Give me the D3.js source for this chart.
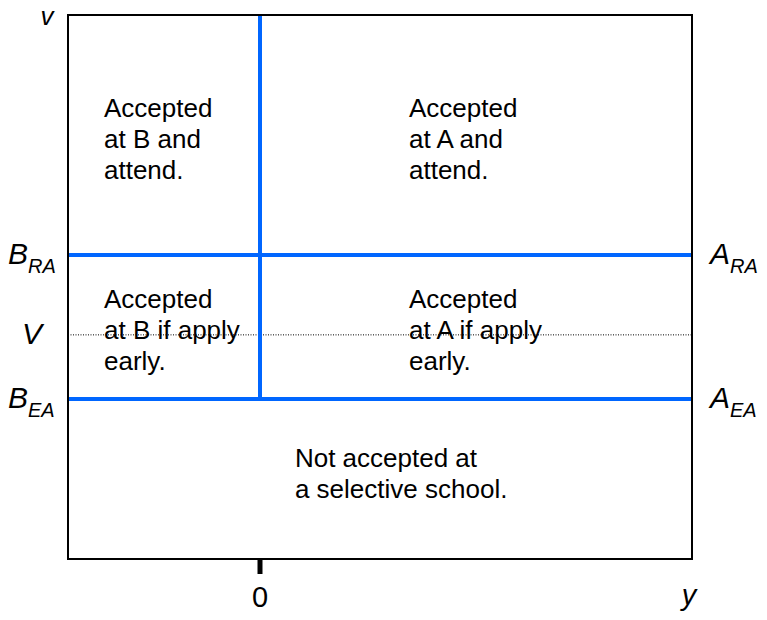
<!DOCTYPE html>
<html>
<head>
<meta charset="utf-8">
<script src="https://cdn.jsdelivr.net/npm/d3@7"></script>
<style>
  body { margin: 0; background: #fff; }
  text { font-family: "Liberation Sans", Arial, sans-serif; }
</style>
</head>
<body>
<div id="svg" style="width:767px;height:620px"></div>
<script>
// datos del grafico
const xDominio = [-1, 2.25];
const yDominio = [0, 1];
const corteX = [0];                 // linea vertical azul en y = 0
const cortesY = [0.294, 0.559];     // B_EA / A_EA y B_RA / A_RA
const nivelV = 0.412;               // linea punteada V
const etiquetasIzq = [
    {base: "B", sub: "RA", v: 0.559},
    {base: "V", sub: "", v: 0.412},
    {base: "B", sub: "EA", v: 0.294},
];
const etiquetasDer = [
    {base: "A", sub: "RA", v: 0.559},
    {base: "A", sub: "EA", v: 0.294},
];
const regiones = [
    {x: -0.8125, y: 0.8125, lineas: ["Accepted", "at B and", "attend."]},
    {x: 0.776, y: 0.8125, lineas: ["Accepted", "at A and", "attend."]},
    {x: -0.8125, y: 0.461, lineas: ["Accepted", "at B if apply", "early."]},
    {x: 0.776, y: 0.461, lineas: ["Accepted", "at A if apply", "early."]},
    {x: 0.182, y: 0.169, lineas: ["Not accepted at", "a selective school."]},
];

const width = 767, height = 620;
const margin = {top: 15, bottom: 61, left: 68, right: 75};

const svg = d3.select("#svg").append("svg")
    .attr("width", width)
    .attr("height", height);

const x = d3.scaleLinear().domain(xDominio).range([margin.left, width - margin.right]);
const y = d3.scaleLinear().domain(yDominio).range([height - margin.bottom, margin.top]);

// linea punteada V
svg.append("line")
    .attr("x1", x(xDominio[0])).attr("x2", x(xDominio[1]))
    .attr("y1", y(nivelV)).attr("y2", y(nivelV))
    .attr("stroke", "#000").attr("stroke-width", 1)
    .attr("stroke-dasharray", "1,1.5");

// lineas azules
svg.append("g").selectAll("line")
    .data(cortesY)
    .join("line")
    .attr("x1", x(xDominio[0])).attr("x2", x(xDominio[1]))
    .attr("y1", d => y(d)).attr("y2", d => y(d))
    .attr("stroke", "#0066ff").attr("stroke-width", 4);

svg.append("g").selectAll("line")
    .data(corteX)
    .join("line")
    .attr("x1", d => x(d)).attr("x2", d => x(d))
    .attr("y1", y(yDominio[1])).attr("y2", y(cortesY[0]))
    .attr("stroke", "#0066ff").attr("stroke-width", 4);

// caja
svg.append("rect")
    .attr("x", x(xDominio[0])).attr("y", y(yDominio[1]))
    .attr("width", x(xDominio[1]) - x(xDominio[0]))
    .attr("height", y(yDominio[0]) - y(yDominio[1]))
    .attr("fill", "none").attr("stroke", "#000").attr("stroke-width", 2);

// marca del 0
svg.append("line")
    .attr("x1", x(0)).attr("x2", x(0))
    .attr("y1", y(0)).attr("y2", y(0) + 15)
    .attr("stroke", "#000").attr("stroke-width", 5);
svg.append("text")
    .attr("x", x(0)).attr("y", y(0) + 48)
    .attr("text-anchor", "middle")
    .attr("font-size", 29)
    .text("0");

// etiquetas de ejes
svg.append("text")
    .attr("x", 47).attr("y", y(1) + 10)
    .attr("text-anchor", "middle")
    .attr("font-size", 26).attr("font-style", "italic")
    .text("v");
svg.append("text")
    .attr("x", 689).attr("y", 605)
    .attr("text-anchor", "middle")
    .attr("font-size", 29).attr("font-style", "italic")
    .text("y");

const etiqueta = (g, d) => {
    const t = g.append("text")
        .attr("font-size", 30).attr("font-style", "italic")
        .attr("y", y(d.v) + 9);
    t.append("tspan").text(d.base);
    if (d.sub) t.append("tspan").attr("font-size", 20).attr("dy", 9).text(d.sub);
    return t;
};

etiquetasIzq.forEach(d => {
    const t = etiqueta(svg, d);
    t.attr("x", d.sub ? 8 : 22);
});
etiquetasDer.forEach(d => {
    const t = etiqueta(svg, d);
    t.attr("x", 710);
});

// textos de regiones
regiones.forEach(r => {
    const t = svg.append("text")
        .attr("x", x(r.x)).attr("y", y(r.y))
        .attr("font-size", 26);
    r.lineas.forEach((l, i) => {
        t.append("tspan")
            .attr("x", x(r.x))
            .attr("dy", i == 0 ? 0 : 31)
            .text(l);
    });
});
</script>
</body>
</html>
